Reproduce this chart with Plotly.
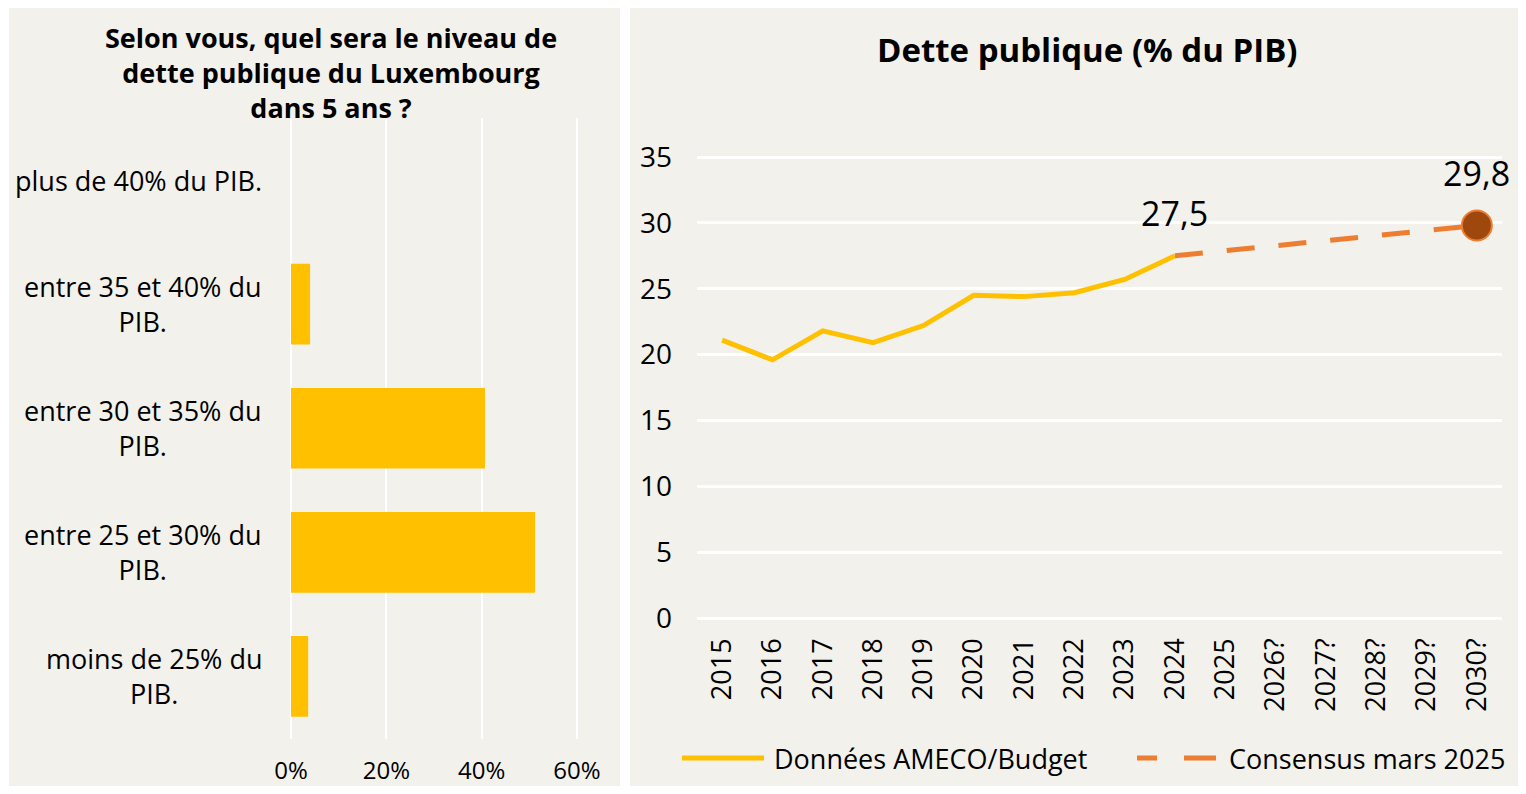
import plotly.graph_objects as go

# ---------------- data ----------------
survey_categories = [
    "plus de 40% du PIB.",
    "entre 35 et 40% du PIB.",
    "entre 30 et 35% du PIB.",
    "entre 25 et 30% du PIB.",
    "moins de 25% du PIB.",
]
survey_labels = [
    "plus de 40% du PIB.",
    "entre 35 et 40% du<br>PIB.",
    "entre 30 et 35% du<br>PIB.",
    "entre 25 et 30% du<br>PIB.",
    "moins de 25% du<br>PIB.",
]
survey_values = [0.0, 4.0, 40.7, 51.2, 3.6]
survey_ticks = [0, 20, 40, 60]
survey_ticktext = ["0%", "20%", "40%", "60%"]
survey_title = "Selon vous, quel sera le niveau de<br>dette publique du Luxembourg<br>dans 5 ans ?"

years = ["2015", "2016", "2017", "2018", "2019", "2020", "2021", "2022",
         "2023", "2024", "2025", "2026?", "2027?", "2028?", "2029?", "2030?"]
hist_years = ["2015", "2016", "2017", "2018", "2019", "2020", "2021", "2022", "2023", "2024"]
hist_values = [21.1, 19.6, 21.8, 20.9, 22.2, 24.5, 24.4, 24.7, 25.7, 27.5]
cons_years = ["2024", "2030?"]
cons_values = [27.5, 29.8]
debt_ticks = [0, 5, 10, 15, 20, 25, 30, 35]

# ---------------- style ----------------
PAGE_W, PAGE_H = 1526, 794
OFF = 8  # default body margin of the page
W, H = PAGE_W - 2 * OFF, PAGE_H - 2 * OFF
FONT = "Open Sans"
BG = "#F2F1EC"
YELLOW = "#FFC000"
ORANGE = "#ED7D31"
BROWN = "#9E480E"

def px(x):
    return (x - OFF) / W

def py(y):
    return 1 - (y - OFF) / H

# plot areas (reference pixels) and a small pad so edge gridlines are drawn
L_X0, L_X1 = 291, 577      # 0% .. 60%
R_Y0, R_Y1 = 618, 157      # 0 .. 35
PAD = 3
l_upp = 60 / (L_X1 - L_X0)
r_upp = 35 / (R_Y0 - R_Y1)

fig = go.Figure()

fig.add_trace(go.Bar(
    x=survey_values, y=survey_categories, orientation="h",
    marker=dict(color=YELLOW, line=dict(width=0)),
    xaxis="x", yaxis="y", showlegend=False, hoverinfo="x+y",
))

fig.add_trace(go.Scatter(
    x=hist_years, y=hist_values, mode="lines",
    line=dict(color=YELLOW, width=5),
    xaxis="x2", yaxis="y2", name="Données AMECO/Budget", showlegend=False,
))
fig.add_trace(go.Scatter(
    x=cons_years, y=cons_values, mode="lines",
    line=dict(color=ORANGE, width=5, dash="28px,24px"),
    xaxis="x2", yaxis="y2", name="Consensus mars 2025", showlegend=False,
))
fig.add_trace(go.Scatter(
    x=[cons_years[-1]], y=[cons_values[-1]], mode="markers",
    marker=dict(color=BROWN, size=30, line=dict(color=ORANGE, width=2)),
    xaxis="x2", yaxis="y2", showlegend=False,
))

shapes = [
    dict(type="rect", xref="paper", yref="paper", x0=px(9), x1=px(620), y0=py(800), y1=py(6),
         fillcolor=BG, line=dict(width=0), layer="below"),
    dict(type="rect", xref="paper", yref="paper", x0=px(630), x1=px(1522), y0=py(800), y1=py(6),
         fillcolor=BG, line=dict(width=0), layer="below"),
    dict(type="line", xref="paper", yref="paper", x0=px(682), x1=px(764), y0=py(758), y1=py(758),
         line=dict(color=YELLOW, width=5)),
    dict(type="line", xref="paper", yref="paper", x0=px(1137), x1=px(1157), y0=py(758), y1=py(758),
         line=dict(color=ORANGE, width=5)),
    dict(type="line", xref="paper", yref="paper", x0=px(1184), x1=px(1216), y0=py(758), y1=py(758),
         line=dict(color=ORANGE, width=5)),
]

annotations = []
for i, lab in enumerate(survey_labels):
    annotations.append(dict(
        x=px(264), xref="paper", y=i, yref="y", text=lab, showarrow=False,
        xanchor="right", yanchor="middle", align="center",
        font=dict(family=FONT, size=27, color="#000000"),
    ))
annotations.append(dict(
    x=px(331), y=py(72), xref="paper", yref="paper", showarrow=False,
    text=f"<b>{survey_title}</b>", xanchor="center", yanchor="middle", align="center",
    font=dict(family=FONT, size=27, color="#000000"),
))
annotations.append(dict(
    x=px(1087), y=py(50), xref="paper", yref="paper", showarrow=False,
    text="<b>Dette publique (% du PIB)</b>", xanchor="center", yanchor="middle",
    font=dict(family=FONT, size=33, color="#000000"),
))
annotations.append(dict(
    x=years.index(hist_years[-1]), y=hist_values[-1], xref="x2", yref="y2", showarrow=False,
    text=f"{hist_values[-1]:.1f}".replace(".", ","), yanchor="bottom", xanchor="center", yshift=18,
    font=dict(family=FONT, size=34, color="#000000"),
))
annotations.append(dict(
    x=years.index(cons_years[-1]), y=cons_values[-1], xref="x2", yref="y2", showarrow=False,
    text=f"{cons_values[-1]:.1f}".replace(".", ","), yanchor="bottom", xanchor="center", yshift=27,
    font=dict(family=FONT, size=34, color="#000000"),
))
annotations.append(dict(
    x=px(772), y=py(758), xref="paper", yref="paper", showarrow=False,
    text="Données AMECO/Budget", xanchor="left", yanchor="middle",
    font=dict(family=FONT, size=27, color="#000000"),
))
annotations.append(dict(
    x=px(1227), y=py(758), xref="paper", yref="paper", showarrow=False,
    text="Consensus mars 2025", xanchor="left", yanchor="middle",
    font=dict(family=FONT, size=27, color="#000000"),
))

fig.update_layout(
    width=W, height=H, autosize=False,
    margin=dict(l=0, r=0, t=0, b=0, pad=0),
    paper_bgcolor="#FFFFFF", plot_bgcolor="rgba(0,0,0,0)",
    font=dict(family=FONT, size=24, color="#000000"),
    bargap=0.35, showlegend=False,
    shapes=shapes, annotations=annotations,
    xaxis=dict(
        domain=[px(L_X0 - PAD), px(L_X1 + PAD)],
        range=[-PAD * l_upp, 60 + PAD * l_upp], anchor="y", automargin=False,
        tickvals=survey_ticks, ticktext=survey_ticktext,
        showgrid=True, gridcolor="#FFFFFF", gridwidth=2, zeroline=False, showline=False,
        ticks="", ticklabelstandoff=15, tickfont=dict(family=FONT, size=24, color="#000000"),
        fixedrange=True,
    ),
    yaxis=dict(
        domain=[py(738.5), py(118)], anchor="x", type="category", automargin=False,
        categoryorder="array", categoryarray=survey_categories, autorange="reversed",
        showticklabels=False, showgrid=False, zeroline=False, showline=False, ticks="",
        fixedrange=True,
    ),
    xaxis2=dict(
        domain=[px(697), px(1502)], anchor="y2", type="category", automargin=False,
        categoryorder="array", categoryarray=years, range=[-0.5, len(years) - 0.5],
        tickvals=years, ticktext=years,
        tickangle=-90, showgrid=False, zeroline=False, showline=False, ticks="",
        ticklabelstandoff=14 - PAD, tickfont=dict(family=FONT, size=27, color="#000000"),
        fixedrange=True,
    ),
    yaxis2=dict(
        domain=[py(R_Y0 + PAD), py(R_Y1 - PAD)], anchor="x2",
        range=[-PAD * r_upp, 35 + PAD * r_upp], automargin=False,
        tickvals=debt_ticks, showgrid=True, gridcolor="#FFFFFF", gridwidth=2.5,
        zeroline=False, showline=False, ticks="", ticklabelstandoff=24,
        tickfont=dict(family=FONT, size=28, color="#000000"),
        fixedrange=True,
    ),
)

fig.write_html("out.html")
